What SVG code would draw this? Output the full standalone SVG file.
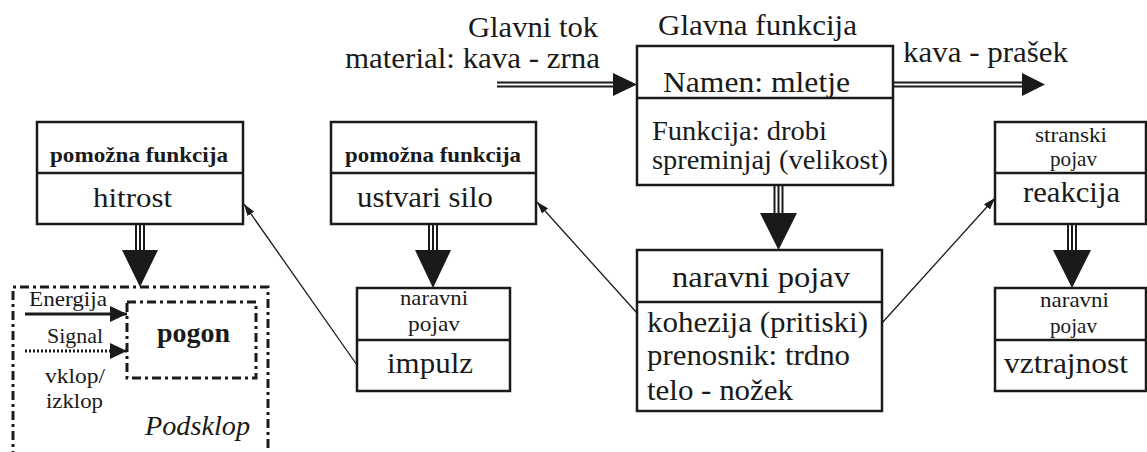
<svg xmlns="http://www.w3.org/2000/svg" width="1147" height="452" viewBox="0 0 1147 452" font-family="'Liberation Serif', 'Times New Roman', 'DejaVu Serif', serif">
<style>
text{font-family:'Liberation Serif','Times New Roman','DejaVu Serif',serif;fill:#1a1a1a}
.b{stroke:#1a1a1a;stroke-width:2.5;fill:#fff}
.d{stroke:#1a1a1a;stroke-width:2.5;fill:none}
.l{font-size:30px}
.m{font-size:28px}
.s{font-size:22px}
.bold{font-weight:bold}
.it{font-style:italic}
.thin{stroke:#1a1a1a;stroke-width:1.3;fill:none}
.tri{stroke:#1a1a1a;stroke-width:2;fill:none}
.head{fill:#1a1a1a}
.dd{stroke:#1a1a1a;stroke-width:3;fill:none;stroke-dasharray:9 4 3 4}
</style>
<defs>
<marker id="ah" viewBox="0 0 12 8" refX="12" refY="4" markerWidth="12" markerHeight="8" markerUnits="userSpaceOnUse" orient="auto">
<path d="M0,0 L12,4 L0,8 Z" fill="#1a1a1a"/>
</marker>
<marker id="ah2" viewBox="0 0 17 16" refX="17" refY="8" markerWidth="17" markerHeight="16" markerUnits="userSpaceOnUse" orient="auto">
<path d="M0,0 L17,8 L0,16 Z" fill="#1a1a1a"/>
</marker>
</defs>

<g id="labels">
<text class="l" x="468" y="37" textLength="130" lengthAdjust="spacingAndGlyphs">Glavni tok</text>
<text class="l" x="345" y="68" textLength="255" lengthAdjust="spacingAndGlyphs">material: kava - zrna</text>
<text class="l" x="658" y="35" textLength="199" lengthAdjust="spacingAndGlyphs">Glavna funkcija</text>
<text class="l" x="903" y="62" textLength="165" lengthAdjust="spacingAndGlyphs">kava - prašek</text>
</g>

<g id="glavna">
<rect class="b" x="637" y="46" width="256" height="139"/>
<line class="d" x1="637" y1="98" x2="893" y2="98"/>
<text class="l" x="663" y="92" textLength="187" lengthAdjust="spacingAndGlyphs">Namen: mletje</text>
<text class="m" x="652" y="140" textLength="175" lengthAdjust="spacingAndGlyphs">Funkcija: drobi</text>
<text class="m" x="652" y="169" textLength="236" lengthAdjust="spacingAndGlyphs">spreminjaj (velikost)</text>
</g>

<g id="hitrost">
<rect class="b" x="37" y="122" width="206" height="102"/>
<line class="d" x1="37" y1="173" x2="243" y2="173"/>
<text class="s bold" x="50" y="162" textLength="178" lengthAdjust="spacingAndGlyphs">pomožna funkcija</text>
<text class="m" x="93" y="207" textLength="79" lengthAdjust="spacingAndGlyphs">hitrost</text>
</g>

<g id="ustvari">
<rect class="b" x="331" y="122" width="205" height="102"/>
<line class="d" x1="331" y1="173" x2="536" y2="173"/>
<text class="s bold" x="345" y="162" textLength="176" lengthAdjust="spacingAndGlyphs">pomožna funkcija</text>
<text class="l" x="357" y="207" textLength="136" lengthAdjust="spacingAndGlyphs">ustvari silo</text>
</g>

<g id="reakcija">
<rect class="b" x="995" y="122" width="151" height="102"/>
<line class="d" x1="995" y1="173" x2="1146" y2="173"/>
<text class="s" x="1035" y="142" textLength="72" lengthAdjust="spacingAndGlyphs">stranski</text>
<text class="s" x="1050" y="166" textLength="47" lengthAdjust="spacingAndGlyphs">pojav</text>
<text class="l" x="1023" y="202" textLength="97" lengthAdjust="spacingAndGlyphs">reakcija</text>
</g>

<g id="impulz">
<rect class="b" x="357" y="288" width="153" height="103"/>
<line class="d" x1="357" y1="340" x2="510" y2="340"/>
<text class="s" x="400" y="305" textLength="68" lengthAdjust="spacingAndGlyphs">naravni</text>
<text class="s" x="408" y="331" textLength="52" lengthAdjust="spacingAndGlyphs">pojav</text>
<text class="l" x="387" y="373" textLength="86" lengthAdjust="spacingAndGlyphs">impulz</text>
</g>

<g id="naravni">
<rect class="b" x="637" y="250" width="245" height="161"/>
<line class="d" x1="637" y1="302" x2="882" y2="302"/>
<text class="l" x="672" y="287" textLength="178" lengthAdjust="spacingAndGlyphs">naravni  pojav</text>
<text class="l" x="647" y="332" textLength="221" lengthAdjust="spacingAndGlyphs">kohezija (pritiski)</text>
<text class="l" x="647" y="365" textLength="203" lengthAdjust="spacingAndGlyphs">prenosnik: trdno</text>
<text class="l" x="647" y="400" textLength="146" lengthAdjust="spacingAndGlyphs">telo - nožek</text>
</g>

<g id="vztrajnost">
<rect class="b" x="995" y="288" width="151" height="103"/>
<line class="d" x1="995" y1="340" x2="1146" y2="340"/>
<text class="s" x="1040" y="307" textLength="69" lengthAdjust="spacingAndGlyphs">naravni</text>
<text class="s" x="1050" y="333" textLength="47" lengthAdjust="spacingAndGlyphs">pojav</text>
<text class="l" x="1004" y="373" textLength="124" lengthAdjust="spacingAndGlyphs">vztrajnost</text>
</g>

<g id="podsklop">
<path class="dd" d="M13,460 L13,287 L268,287 L268,460"/>
<rect class="dd" x="127" y="302" width="129" height="76"/>
<text class="m bold" x="157" y="342" textLength="73" lengthAdjust="spacingAndGlyphs">pogon</text>
<text class="s" x="29" y="306" textLength="78" lengthAdjust="spacingAndGlyphs">Energija</text>
<text class="s" x="47" y="343" textLength="56" lengthAdjust="spacingAndGlyphs">Signal</text>
<text class="s" x="45" y="383" textLength="60" lengthAdjust="spacingAndGlyphs">vklop/</text>
<text class="s" x="46" y="408" textLength="57" lengthAdjust="spacingAndGlyphs">izklop</text>
<text class="m it" x="145" y="435" textLength="105" lengthAdjust="spacingAndGlyphs">Podsklop</text>
<line x1="25" y1="314" x2="127" y2="314" stroke="#1a1a1a" stroke-width="3" marker-end="url(#ah2)"/>
<line x1="25" y1="351" x2="127" y2="351" stroke="#1a1a1a" stroke-width="3" stroke-dasharray="2 2" marker-end="url(#ah2)"/>
</g>

<g id="connectors">
<line class="tri" x1="497" y1="82.5" x2="615" y2="82.5"/>
<line class="tri" x1="497" y1="86.5" x2="615" y2="86.5"/>
<path class="head" d="M613,73 L637,84.5 L613,96 Z"/>
<line class="tri" x1="893" y1="82.5" x2="1024" y2="82.5"/>
<line class="tri" x1="893" y1="86.5" x2="1024" y2="86.5"/>
<path class="head" d="M1022,73 L1045,84.5 L1022,96 Z"/>
<line class="tri" x1="774.5" y1="185" x2="774.5" y2="215"/>
<line class="tri" x1="778.5" y1="185" x2="778.5" y2="215"/>
<line class="tri" x1="782.5" y1="185" x2="782.5" y2="215"/>
<path class="head" d="M760,213 L797,213 L778.5,250 Z"/>
<line class="tri" x1="136" y1="224" x2="136" y2="252"/>
<line class="tri" x1="140" y1="224" x2="140" y2="252"/>
<line class="tri" x1="144" y1="224" x2="144" y2="252"/>
<path class="head" d="M122,250 L158,250 L140,287 Z"/>
<line class="tri" x1="429" y1="224" x2="429" y2="252"/>
<line class="tri" x1="433" y1="224" x2="433" y2="252"/>
<line class="tri" x1="437" y1="224" x2="437" y2="252"/>
<path class="head" d="M415,250 L451,250 L433,288 Z"/>
<line class="tri" x1="1068" y1="224" x2="1068" y2="252"/>
<line class="tri" x1="1072" y1="224" x2="1072" y2="252"/>
<line class="tri" x1="1076" y1="224" x2="1076" y2="252"/>
<path class="head" d="M1053,250 L1091,250 L1072,288 Z"/>
<line class="thin" x1="357" y1="365" x2="244" y2="204" marker-end="url(#ah)"/>
<line class="thin" x1="637" y1="313" x2="537" y2="202" marker-end="url(#ah)"/>
<line class="thin" x1="882" y1="323" x2="995" y2="198" marker-end="url(#ah)"/>
</g>
</svg>
